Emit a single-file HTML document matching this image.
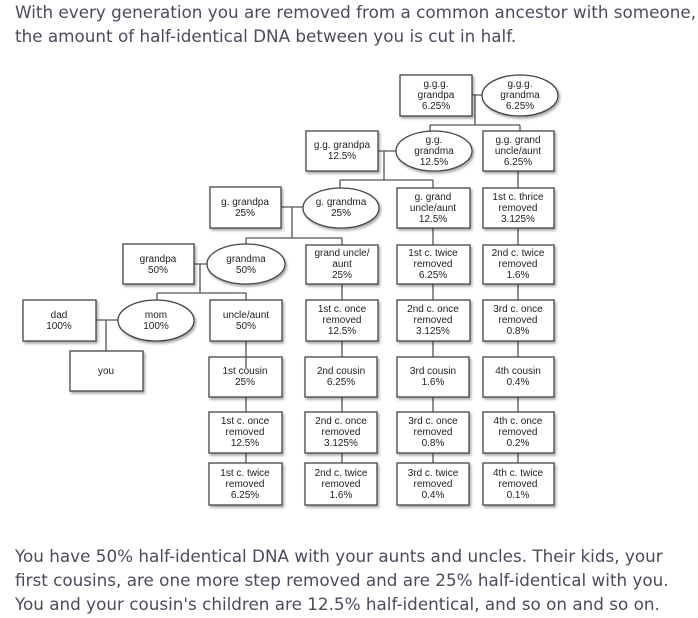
<!DOCTYPE html>
<html><head><meta charset="utf-8"><style>
html,body{margin:0;padding:0;background:#fff;width:698px;height:618px;overflow:hidden}
.t{position:absolute;left:15px;font-family:"DejaVu Sans","Liberation Sans",sans-serif;font-size:16.8px;line-height:24px;color:#4b4b5e;white-space:nowrap}
svg{position:absolute;left:0;top:0}
svg text{font-family:"Liberation Sans",sans-serif;font-size:10px;fill:#222;text-anchor:middle}
</style></head><body>
<div class="t" style="top:0px">With every generation you are removed from a common ancestor with someone,<br>the amount of half-identical DNA between you is cut in half.</div>
<div class="t" style="top:544px">You have 50% half-identical DNA with your aunts and uncles. Their kids, your<br>first cousins, are one more step removed and are 25% half-identical with you.<br>You and your cousin's children are 12.5% half-identical, and so on and so on.</div>
<svg width="698" height="618" viewBox="0 0 698 618">
<defs><filter id="s" x="-10%" y="-10%" width="130%" height="140%"><feDropShadow dx="1.5" dy="2" stdDeviation="1.2" flood-color="#000" flood-opacity="0.35"/></filter></defs>
<g stroke="#555" stroke-width="1.3" fill="none">
<path d="M472 95H482M475 95V125M430 125H520M430 125V131M520 125V131"/>
<path d="M378 151H396M384 151V180M340 180H433M340 180V188M433 180V188"/>
<path d="M281 207H303M292 207V238M246 238H342M246 238V244M342 238V245"/>
<path d="M194 264H207M200 264V293M157 293H246M157 293V300M246 293V300"/>
<path d="M96 320H118M106 320V351"/>
<path d="M518 171V188M518 228V245M518 284V300M518 341V357M518 397V412M518 453V463"/>
<path d="M433 228V245M433 284V300M433 341V357M433 397V412M433 453V463"/>
<path d="M342 284V300M342 341V357M342 397V412M342 453V463"/>
<path d="M246 341V357M246 397V412M246 453V463M260 357V368"/>
</g>
<g fill="#fff" stroke="#444" stroke-width="1.3" filter="url(#s)">
<rect x="400" y="75" width="72" height="41"/>
<ellipse cx="520" cy="95.5" rx="38" ry="20.5"/>
<rect x="306" y="131" width="72" height="40"/>
<ellipse cx="434" cy="151" rx="38" ry="20"/>
<rect x="483" y="131" width="71" height="40"/>
<rect x="210" y="187" width="71" height="41"/>
<ellipse cx="341" cy="208" rx="38" ry="20"/>
<rect x="397" y="188" width="73" height="40"/>
<rect x="483" y="188" width="71" height="40"/>
<rect x="123" y="244" width="71" height="40"/>
<ellipse cx="246" cy="264" rx="39" ry="20"/>
<rect x="306" y="245" width="72" height="39"/>
<rect x="397" y="245" width="73" height="39"/>
<rect x="483" y="245" width="71" height="39"/>
<rect x="23" y="300" width="73" height="41"/>
<ellipse cx="156" cy="320.5" rx="38" ry="20.5"/>
<rect x="210" y="300" width="72" height="41"/>
<rect x="306" y="300" width="72" height="41"/>
<rect x="397" y="300" width="73" height="41"/>
<rect x="483" y="300" width="71" height="41"/>
<rect x="70" y="351" width="73" height="40"/>
<rect x="209" y="357" width="73" height="40"/>
<rect x="305" y="357" width="72" height="40"/>
<rect x="397" y="357" width="72" height="40"/>
<rect x="483" y="357" width="71" height="40"/>
<rect x="209" y="412" width="73" height="41"/>
<rect x="305" y="412" width="72" height="41"/>
<rect x="397" y="412" width="72" height="41"/>
<rect x="483" y="412" width="71" height="41"/>
<rect x="209" y="463" width="73" height="42"/>
<rect x="305" y="463" width="72" height="42"/>
<rect x="397" y="463" width="72" height="42"/>
<rect x="483" y="463" width="71" height="42"/>
</g>
<path d="M246 357V368" stroke="#555" stroke-width="1.3"/>
<g>
<text x="436" y="87">g.g.g.</text><text x="436" y="98">grandpa</text><text x="436" y="109">6.25%</text>
<text x="520" y="87">g.g.g.</text><text x="520" y="98">grandma</text><text x="520" y="109">6.25%</text>
<text x="342" y="148">g.g. grandpa</text><text x="342" y="159">12.5%</text>
<text x="434" y="143">g.g.</text><text x="434" y="154">grandma</text><text x="434" y="165">12.5%</text>
<text x="518" y="143">g.g. grand</text><text x="518" y="154">uncle/aunt</text><text x="518" y="165">6.25%</text>
<text x="245" y="205">g. grandpa</text><text x="245" y="216">25%</text>
<text x="341" y="205">g. grandma</text><text x="341" y="216">25%</text>
<text x="433" y="200">g. grand</text><text x="433" y="211">uncle/aunt</text><text x="433" y="222">12.5%</text>
<text x="518" y="200">1st c. thrice</text><text x="518" y="211">removed</text><text x="518" y="222">3.125%</text>
<text x="158" y="262">grandpa</text><text x="158" y="273">50%</text>
<text x="246" y="262">grandma</text><text x="246" y="273">50%</text>
<text x="342" y="256">grand uncle/</text><text x="342" y="267">aunt</text><text x="342" y="278">25%</text>
<text x="433" y="256">1st c. twice</text><text x="433" y="267">removed</text><text x="433" y="278">6.25%</text>
<text x="518" y="256">2nd c. twice</text><text x="518" y="267">removed</text><text x="518" y="278">1.6%</text>
<text x="59" y="318">dad</text><text x="59" y="329">100%</text>
<text x="156" y="318">mom</text><text x="156" y="329">100%</text>
<text x="246" y="318">uncle/aunt</text><text x="246" y="329">50%</text>
<text x="342" y="312">1st c. once</text><text x="342" y="323">removed</text><text x="342" y="334">12.5%</text>
<text x="433" y="312">2nd c. once</text><text x="433" y="323">removed</text><text x="433" y="334">3.125%</text>
<text x="518" y="312">3rd c. once</text><text x="518" y="323">removed</text><text x="518" y="334">0.8%</text>
<text x="106" y="374">you</text>
<text x="245" y="374">1st cousin</text><text x="245" y="385">25%</text>
<text x="341" y="374">2nd cousin</text><text x="341" y="385">6.25%</text>
<text x="433" y="374">3rd cousin</text><text x="433" y="385">1.6%</text>
<text x="518" y="374">4th cousin</text><text x="518" y="385">0.4%</text>
<text x="245" y="424">1st c. once</text><text x="245" y="435">removed</text><text x="245" y="446">12.5%</text>
<text x="341" y="424">2nd c. once</text><text x="341" y="435">removed</text><text x="341" y="446">3.125%</text>
<text x="433" y="424">3rd c. once</text><text x="433" y="435">removed</text><text x="433" y="446">0.8%</text>
<text x="518" y="424">4th c. once</text><text x="518" y="435">removed</text><text x="518" y="446">0.2%</text>
<text x="245" y="476">1st c. twice</text><text x="245" y="487">removed</text><text x="245" y="498">6.25%</text>
<text x="341" y="476">2nd c. twice</text><text x="341" y="487">removed</text><text x="341" y="498">1.6%</text>
<text x="433" y="476">3rd c. twice</text><text x="433" y="487">removed</text><text x="433" y="498">0.4%</text>
<text x="518" y="476">4th c. twice</text><text x="518" y="487">removed</text><text x="518" y="498">0.1%</text>
</g>
</svg>
</body></html>
